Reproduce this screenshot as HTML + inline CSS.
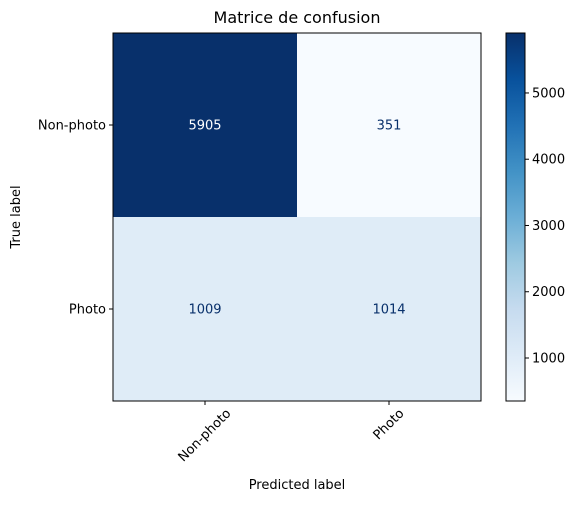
<!DOCTYPE html>
<html><head><meta charset="utf-8"><style>body{margin:0;background:#fff}svg{font-family:"DejaVu Sans","Liberation Sans",sans-serif}</style></head>
<body>
<svg id="chart" width="579" height="502" viewBox="0 0 579 502">
<defs>
<linearGradient id="blues" x1="0" y1="1" x2="0" y2="0">
<stop offset="0" stop-color="#f7fbff"/><stop offset="0.125" stop-color="#deebf7"/><stop offset="0.25" stop-color="#c6dbef"/><stop offset="0.375" stop-color="#9ecae1"/><stop offset="0.5" stop-color="#6baed6"/><stop offset="0.625" stop-color="#4292c6"/><stop offset="0.75" stop-color="#2171b5"/><stop offset="0.875" stop-color="#08519c"/><stop offset="1" stop-color="#08306b"/>
</linearGradient>
</defs>
<text x="297" y="23" text-anchor="middle" font-size="16" fill="#000">Matrice de confusion</text>
<g id="cells"></g>
<g id="axes"></g>
<g id="cbar"></g>
</svg>
<script>
const labels = ["Non-photo", "Photo"];
const matrix = [[5905, 351], [1009, 1014]];
const cbarTicks = [1000, 2000, 3000, 4000, 5000];

const NS = "http://www.w3.org/2000/svg";
const svg = document.getElementById("chart");
const X0 = 113, Y0 = 33, S = 368, FS = 13;
const n = labels.length, cw = S / n;
const vals = matrix.flat();
const vmin = Math.min(...vals), vmax = Math.max(...vals);
const stops = ["#f7fbff","#deebf7","#c6dbef","#9ecae1","#6baed6","#4292c6","#2171b5","#08519c","#08306b"];
function hex(c){return [1,3,5].map(i=>parseInt(c.substr(i,2),16));}
function color(v){
  let t=(v-vmin)/(vmax-vmin); t=Math.max(0,Math.min(1,t));
  const p=t*(stops.length-1), i=Math.min(Math.floor(p),stops.length-2), f=p-i;
  const a=hex(stops[i]), b=hex(stops[i+1]);
  return "rgb("+a.map((x,k)=>Math.round(x+(b[k]-x)*f)).join(",")+")";
}
function mk(tag, attrs, parent){const e=document.createElementNS(NS,tag);for(const k in attrs)e.setAttribute(k,attrs[k]);(parent||svg).appendChild(e);return e;}
const cells=document.getElementById("cells"), axes=document.getElementById("axes"), cbar=document.getElementById("cbar");
const xPos=j=>X0+cw*(j+0.5), yPos=i=>Y0+cw*(i+0.5);
for(let i=0;i<n;i++)for(let j=0;j<n;j++){
  const v=matrix[i][j];
  const r=mk("rect",{x:X0+cw*j,y:Y0+cw*i,width:cw+0.5,height:cw+0.5,fill:color(v)},cells);
  
  
  const t=mk("text",{x:xPos(j),y:yPos(i)+4.5,"text-anchor":"middle","font-size":FS,fill:(v-vmin)/(vmax-vmin)>0.5?"#fff":"#08306b"},cells);
  t.textContent=v;
  
  
}
const frame=mk("rect",{x:X0,y:Y0,width:S,height:S,fill:"none",stroke:"#000","stroke-width":"1"},axes);


labels.forEach((l,i)=>{
  mk("line",{x1:X0,x2:X0-4,y1:yPos(i),y2:yPos(i),stroke:"#000"},axes);
  const t=mk("text",{x:X0-7,y:yPos(i)+4.5,"text-anchor":"end","font-size":FS},axes);
  t.textContent=l;
  
  
  mk("line",{x1:xPos(i),x2:xPos(i),y1:Y0+S,y2:Y0+S+4,stroke:"#000"},axes);
  const u=mk("text",{x:xPos(i),y:0,"text-anchor":"middle","dominant-baseline":"central","font-size":FS},axes);
  u.textContent=l;
  
  
  const w=u.getComputedTextLength();
  const cy=Y0+S+6+(w+FS)*0.7071/2;
  u.setAttribute("y",cy);
  u.setAttribute("transform","rotate(-45 "+xPos(i)+" "+cy+")");
});
const xt=mk("text",{x:X0+S/2,y:489,"text-anchor":"middle","font-size":FS},axes);
xt.textContent="Predicted label";


const yt=mk("text",{x:20,y:Y0+S/2,"text-anchor":"middle","font-size":FS,transform:"rotate(-90 20 "+(Y0+S/2)+")"},axes);
yt.textContent="True label";


// colorbar
const CX=506, CW=19;
const cb=mk("rect",{x:CX,y:Y0,width:CW,height:S,fill:"url(#blues)",stroke:"#000","stroke-width":"1"},cbar);


const cyv=v=>Y0+S-(v-vmin)/(vmax-vmin)*S;
cbarTicks.forEach(v=>{
  mk("line",{x1:CX+CW,x2:CX+CW+4,y1:cyv(v),y2:cyv(v),stroke:"#000"},cbar);
  const t=mk("text",{x:CX+CW+7,y:cyv(v)+4.5,"font-size":FS},cbar);
  t.textContent=v;
  
  
});
</script>
</body></html>
